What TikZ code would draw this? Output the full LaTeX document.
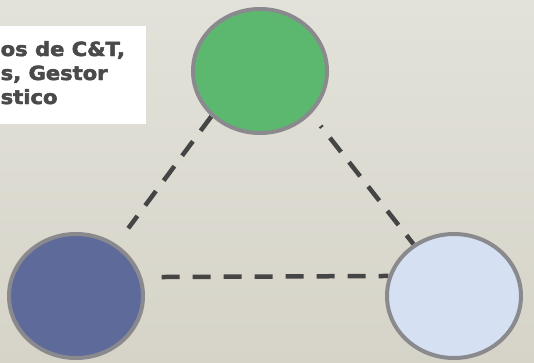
\documentclass[tikz,border=0pt]{standalone}
\usepackage{fontspec}
\usetikzlibrary{shapes.geometric}
\newfontfamily\heavyfont[FakeBold=2.5]{DejaVu Sans Bold}
\definecolor{fondoA}{HTML}{E3E2DA}
\definecolor{fondoB}{HTML}{D6D4C8}
\definecolor{verdeR}{HTML}{5CB86F}
\definecolor{azulR}{HTML}{5E6A9A}
\definecolor{celesteR}{HTML}{D5E0F2}
\definecolor{bordeR}{HTML}{8A8A8E}
\definecolor{trazoR}{HTML}{454545}
\definecolor{textoR}{HTML}{4A4A4A}
\newcommand{\ancho}[1]{\scalebox{1.08}[1]{#1}}
\pgfdeclarelayer{fondo}
\pgfsetlayers{fondo,main}
\begin{document}
\begin{tikzpicture}[x=1pt,y=-1pt,
	rol/.style={ellipse,draw=bordeR,line width=4pt,minimum width=134pt,minimum height=124pt,inner sep=0pt},
	enlace/.style={draw=trazoR,line width=4.5pt,dash pattern=on 18pt off 13pt},
	rotulo/.style={anchor=base west,inner sep=0pt,text=textoR,font=\fontsize{19.5}{24}\selectfont\heavyfont}]
	\useasboundingbox (0,0) rectangle (534,362);

	% Circulos
	\node[rol,fill=verdeR] (verde) at (260,71) {};
	\node[rol,fill=azulR] (azul) at (76,296) {};
	\node[rol,fill=celesteR] (celeste) at (454,296) {};

	% Recuadro de texto
	\fill[white] (0,26) rectangle (146,124);
	\node[rotulo] (linea1) at (0.5,56) {\ancho{os de C\&T,}};
	\node[rotulo] (linea2) at (0.5,80) {\ancho{s, Gestor}};
	\node[rotulo] (linea3) at (0.5,104) {\ancho{stico}};

	% Fondo y enlaces
	\begin{pgfonlayer}{fondo}
		\fill[top color=fondoA,bottom color=fondoB] (0,0) rectangle (534,362);
		\draw[enlace,shorten >=19.8pt] (verde.223.6) -- (azul.52.1);
		\draw[enlace,dash phase=16pt,shorten <=15.3pt] (verde.320.8) -- (celeste.128.8);
		\draw[enlace,shorten <=19.7pt] (azul.16.1) -- (celeste.163.9);
	\end{pgfonlayer}
\end{tikzpicture}
\end{document}
